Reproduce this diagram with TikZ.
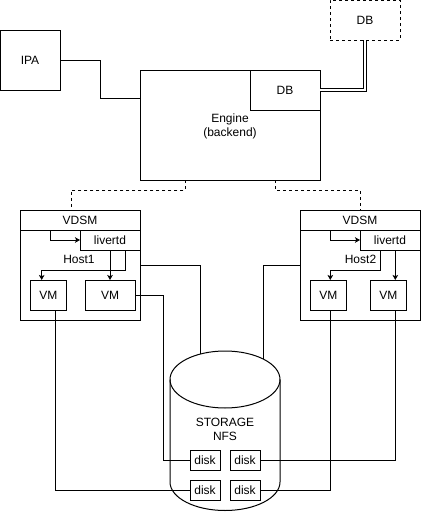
\documentclass[tikz,border=0pt]{standalone}
\usepackage{fontspec}
\setmainfont{Liberation Sans}
\usetikzlibrary{arrows.meta,calc}
\begin{document}
\begin{tikzpicture}[x=1pt,y=-1pt,line width=1pt,
  box/.style={draw,fill=white,inner sep=0pt,outer sep=0pt,align=center,font=\fontsize{12}{14}\selectfont},
  lbl/.style={inner sep=0pt,align=center,font=\fontsize{12}{14}\selectfont},
  conn/.style={draw,line width=1pt},
  arr/.style={conn,-{Stealth[length=5pt,width=5.5pt,inset=1.2pt]}},
  dsh/.style={conn,dash pattern=on 3pt off 3pt},
  dbl/.style={line width=1pt,double,double distance=2.3pt}]
\useasboundingbox (0,0) rectangle (421,512);
% top row
\node[box,minimum width=60pt,minimum height=60pt] (ipa) at (30,60) {IPA};
\node[box,minimum width=180pt,minimum height=110pt] (engine) at (230,125) {};
\node[lbl] (enginetxt) at (230,126) {Engine\\(backend)};
\node[box,minimum width=70pt,minimum height=40pt] (dbin) at (285,90) {DB};
\node[box,dash pattern=on 3pt off 3pt,minimum width=70pt,minimum height=40pt] (dbtop) at (365,20) {DB};
% host 1
\node[box,minimum width=120pt,minimum height=110pt] (host1) at (80,265) {};
\node[box,minimum width=120pt,minimum height=20pt] (vdsm1) at (80,220) {VDSM};
\node[box,minimum width=60pt,minimum height=20pt] (liv1) at (110,240) {livertd};
\node[lbl] (host1txt) at (79,259) {Host1};
\node[box,minimum width=36.7pt,minimum height=30pt] (vm1) at (48.35,295) {VM};
\node[box,minimum width=50pt,minimum height=30pt] (vm2) at (110,295) {VM};
% host 2
\node[box,minimum width=120pt,minimum height=110pt] (host2) at (360,265) {};
\node[box,minimum width=120pt,minimum height=20pt] (vdsm2) at (360,220) {VDSM};
\node[box,minimum width=60pt,minimum height=20pt] (liv2) at (390,240) {livertd};
\node[lbl] (host2txt) at (360.5,259) {Host2};
\node[box,minimum width=36.7pt,minimum height=30pt] (vm3) at (328.35,295) {VM};
\node[box,minimum width=36.7pt,minimum height=30pt] (vm4) at (388.35,295) {VM};
% storage cylinder
\filldraw[fill=white,line width=1pt] (170,379.5) arc[start angle=180,end angle=0,x radius=55pt,y radius=28.5pt]
  -- (280,482) arc[start angle=0,end angle=-180,x radius=55pt,y radius=28.5pt] -- cycle;
\draw[line width=1pt] (170,379.5) arc[start angle=180,end angle=360,x radius=55pt,y radius=28.5pt];
\node[lbl] (stor) at (225,429.5) {STORAGE\\NFS};
\coordinate (cyl1) at (200,354.1);
\coordinate (cyl2) at (263.7,359.2);
\node[box,minimum width=30pt,minimum height=20pt] (d1) at (205,460) {disk};
\node[box,minimum width=30pt,minimum height=20pt] (d2) at (245,460) {disk};
\node[box,minimum width=30pt,minimum height=20pt] (d3) at (205,490) {disk};
\node[box,minimum width=30pt,minimum height=20pt] (d4) at (245,490) {disk};
% connectors top
\draw[conn] (ipa.east) -- (100,60) |- (engine.west |- 0,98);
\draw[dbl] (dbin.east) -| (dbtop.south);
\draw[dsh] (engine.south -| 185.3,0) -- (185.3,190) -| (host1.north -| 71.2,0);
\draw[dsh] (engine.south -| 275.3,0) -- (275.3,190) -| (host2.north);
% host 1 internals
\draw[arr] (vdsm1.south -| 50.3,0) |- (liv1.west);
\draw[arr] (liv1.south) -- (vm2.north);
\draw[arr] (liv1.south -| 125.3,0) -- (125.3,270) -| (vm1.north -| 41.7,0);
% host 2 internals
\draw[arr] (vdsm2.south -| 330.3,0) |- (liv2.west);
\draw[arr] (liv2.south -| 380.3,0) -- (380.3,270) -| (vm3.north -| 330.3,0);
\draw[arr] (liv2.south -| 395.3,0) -- (vm4.north -| 395.3,0);
% to storage
\draw[conn] (host1.east) -| (cyl1);
\draw[conn] (host2.west) -| (cyl2);
\draw[conn] (vm2.east) -- (163.3,295) |- (d1.west);
\draw[conn] (vm1.south -| 55.3,0) |- (d3.west);
\draw[conn] (vm4.south -| 395.3,0) |- (d2.east);
\draw[conn] (vm3.south -| 330.3,0) |- (d4.east);
\end{tikzpicture}
\end{document}
